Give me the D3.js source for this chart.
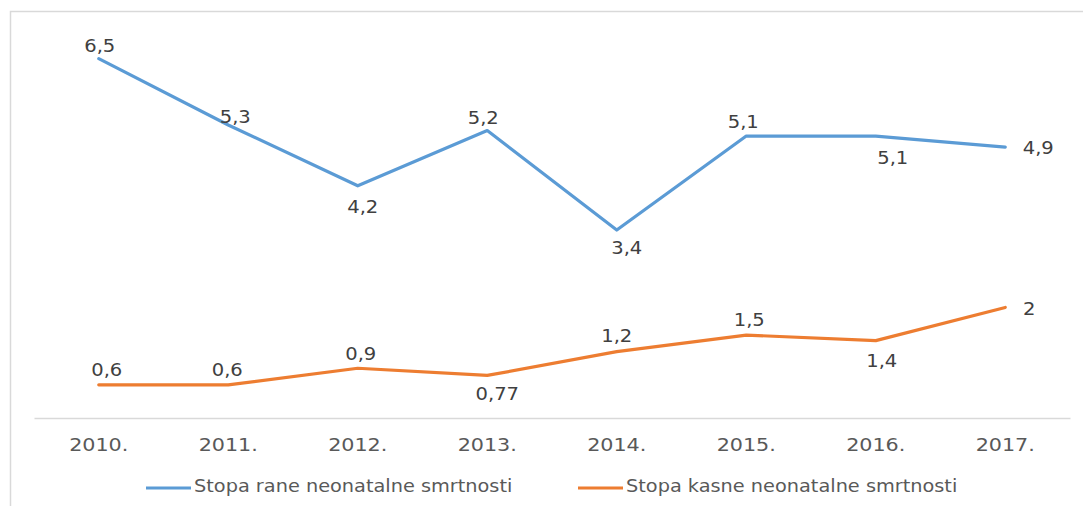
<!DOCTYPE html>
<html>
<head>
<meta charset="utf-8">
<script src="https://cdn.jsdelivr.net/npm/d3@7"></script>
<style>
  body { margin: 0; background: #fff; }
  svg { display: block; }
</style>
</head>
<body>
<div id="chart"></div>
<script>

// Data
const years = ['2010.', '2011.', '2012.', '2013.', '2014.', '2015.', '2016.', '2017.'];
const rane = [6.5, 5.3, 4.2, 5.2, 3.4, 5.1, 5.1, 4.9];
const kasne = [0.6, 0.6, 0.9, 0.77, 1.2, 1.5, 1.4, 2];
const seriesNames = ['Stopa rane neonatalne smrtnosti', 'Stopa kasne neonatalne smrtnosti'];

// Label placement (offset of label centre from its point)
const raneLabelOffset = [[1, -13], [7, -8], [5, 21], [-4, -13], [10, 18], [-3, -14], [17, 22], [33, 1]];
const kasneLabelOffset = [[8, -15], [-1, -15], [3, -14], [10, 18], [0, -16], [3, -15], [6, 20], [24, 1]];

// Page Dimensions
const W = 1083, H = 506;
const plot = {left: 34, right: 1070, top: 31, bottom: 418};
const textColor = '#595959';
const labelColor = '#404040';
const font_family = "'DejaVu Sans', Verdana, sans-serif";
const stretch = 1.15;

const svg = d3.select('#chart').append('svg')
  .attr('width', W)
  .attr('height', H);

// chart border
svg.append('rect')
  .attr('x', 10.5).attr('y', 11.5)
  .attr('width', 1200).attr('height', 600)
  .attr('fill', 'none')
  .attr('stroke', '#d9d9d9')
  .attr('stroke-width', 1.5);

const x = d3.scaleBand()
  .domain(years)
  .range([plot.left, plot.right]);

const y = d3.scaleLinear()
  .domain([0, 7])
  .range([plot.bottom, plot.top]);

const px = d => x(d) + x.bandwidth() / 2;

// stretched text helper (reference text is wide)
function addText(parent, str, cx, cy, size, color, anchor) {
  parent.append('text')
    .attr('transform', `translate(${cx},${cy}) scale(${stretch},1)`)
    .attr('text-anchor', anchor || 'middle')
    .attr('dy', '0.36em')
    .attr('font-family', font_family)
    .attr('font-size', size)
    .attr('fill', color)
    .text(str);
}

// x axis
const xAxis = svg.append('g')
  .attr('transform', `translate(0,${plot.bottom})`)
  .call(d3.axisBottom(x).tickSize(0).tickPadding(0));
xAxis.select('.domain').attr('stroke', '#d9d9d9').attr('stroke-width', 1.5);
xAxis.selectAll('.tick text').remove();
xAxis.selectAll('.tick').each(function(d) {
  addText(d3.select(this), d, 0, 27, 18, textColor);
});

// lines
const line = d3.line()
  .x((d, i) => px(years[i]))
  .y(d => y(d));

const series = [
  {values: rane, color: '#5b9bd5', offsets: raneLabelOffset},
  {values: kasne, color: '#ed7d31', offsets: kasneLabelOffset}
];

series.forEach(s => {
  svg.append('path')
    .datum(s.values)
    .attr('d', line)
    .attr('fill', 'none')
    .attr('stroke', s.color)
    .attr('stroke-width', 3.2)
    .attr('stroke-linejoin', 'round')
    .attr('stroke-linecap', 'round');

  const labels = svg.append('g');
  s.values.forEach((v, i) => {
    const txt = String(v).replace('.', ',');
    addText(labels, txt, px(years[i]) + s.offsets[i][0], y(v) + s.offsets[i][1], 17, labelColor);
  });
});

// legend
const legend = svg.append('g');
const legendItems = [
  {name: seriesNames[0], color: '#5b9bd5', x0: 146},
  {name: seriesNames[1], color: '#ed7d31', x0: 578}
];
legendItems.forEach(item => {
  legend.append('line')
    .attr('x1', item.x0).attr('x2', item.x0 + 45)
    .attr('y1', 488).attr('y2', 488)
    .attr('stroke', item.color)
    .attr('stroke-width', 3.2);
  addText(legend, item.name, item.x0 + 48, 486, 16.8, textColor, 'start');
});

</script>
</body>
</html>
